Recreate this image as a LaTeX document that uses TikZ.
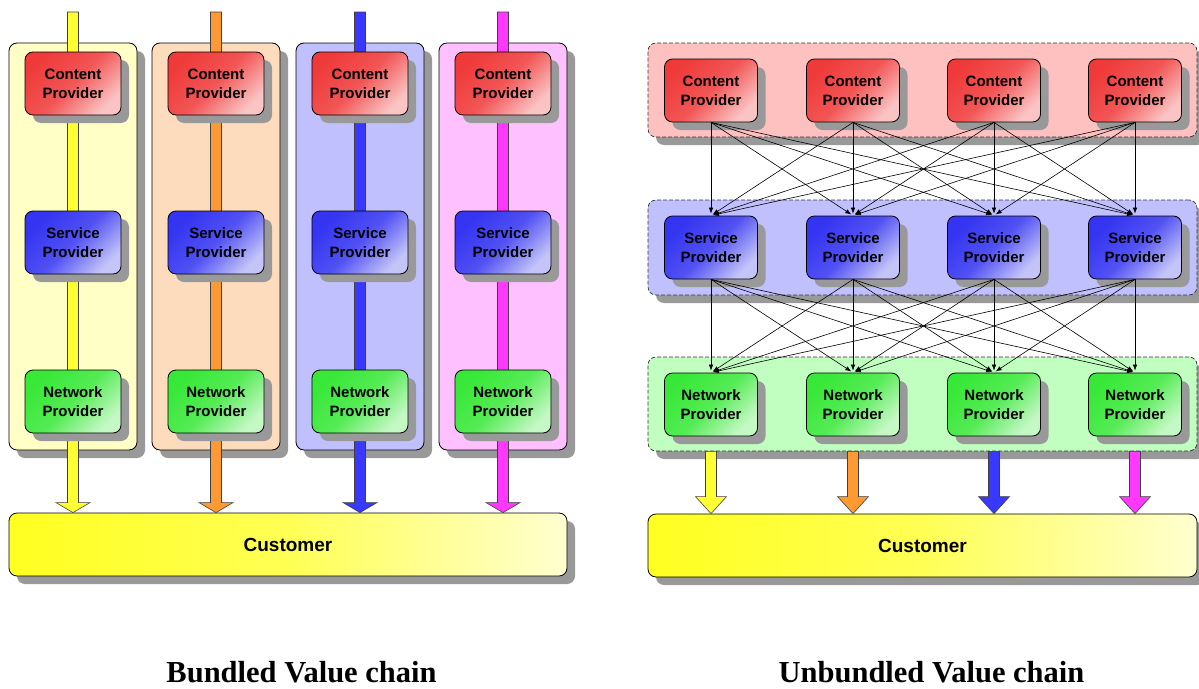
\documentclass[tikz,border=0pt]{standalone}
\usepackage{fontspec}
\setmainfont{Liberation Serif}
\setsansfont{Liberation Sans}
\usetikzlibrary{shadows,arrows.meta,calc}
\definecolor{shadowgray}{HTML}{999999}
\definecolor{bgY}{HTML}{FFFFC6}
\definecolor{bgO}{HTML}{FDDCBE}
\definecolor{bgB}{HTML}{C0C0FF}
\definecolor{bgP}{HTML}{FFC0FF}
\definecolor{barY}{HTML}{FFFF33}
\definecolor{barO}{HTML}{FF9933}
\definecolor{barB}{HTML}{3838FF}
\definecolor{barP}{HTML}{FF38FF}
\definecolor{cpA}{HTML}{F03A3A}
\definecolor{cpB}{HTML}{FAC4C4}
\definecolor{spA}{HTML}{3434F2}
\definecolor{spB}{HTML}{C4C4F8}
\definecolor{npA}{HTML}{38E838}
\definecolor{npB}{HTML}{C4F8C4}
\definecolor{grR}{HTML}{FFC0C0}
\definecolor{grB}{HTML}{C0C0FF}
\definecolor{grG}{HTML}{C0FFC0}
\definecolor{cuA}{HTML}{FFFF20}
\definecolor{cuB}{HTML}{FFFFD0}
\newcommand{\fatarrow}[6]{% top, tip, fill, headlen, shaft half, head half
  \filldraw[fill=#3, draw=black!75, line width=0.6pt]
    ($(#1)+(-#5,0)$) -- ($(#1)+(#5,0)$) -- ($(#2)+(#5,-#4)$) -- ($(#2)+(#6,-#4)$)
    -- (#2) -- ($(#2)+(-#6,-#4)$) -- ($(#2)+(-#5,-#4)$) -- cycle;}
\begin{document}
\begin{tikzpicture}[x=1pt,y=-1pt,
  shd/.style={drop shadow={shadow xshift=8pt,shadow yshift=-8pt,fill=shadowgray,opacity=1}},
  box/.style={shd, rounded corners=8pt, draw=black, line width=0.8pt,
    minimum height=63pt, inner sep=0pt, align=center,
    font=\sffamily\bfseries\fontsize{15}{19}\selectfont},
  cp/.style={box, top color=cpA, bottom color=cpB, middle color=cpA!80!cpB, shading angle=45},
  sp/.style={box, top color=spA, bottom color=spB, middle color=spA!80!spB, shading angle=45},
  np/.style={box, top color=npA, bottom color=npB, middle color=npA!80!npB, shading angle=45},
  colbox/.style={shd, rounded corners=8pt, draw=black, line width=0.8pt,
    minimum width=128pt, minimum height=407pt, inner sep=0pt},
  group/.style={shd, rounded corners=8pt, draw=black!80, dash pattern=on 4pt off 2pt,
    line width=0.7pt, minimum width=549pt, inner sep=0pt},
  cust/.style={shd, rounded corners=8pt, draw=black, line width=0.8pt,
    left color=cuA, right color=cuB, middle color=cuA!70!cuB, minimum height=63pt, inner sep=0pt,
    font=\sffamily\bfseries\fontsize{19}{22}\selectfont},
  conn/.style={-{Latex[length=6pt,width=4.5pt]}, line width=0.6pt, shorten >=2pt},
  title/.style={anchor=base, font=\bfseries\fontsize{30.5}{34}\selectfont}]
\useasboundingbox (0,0) rectangle (1199,688);

% ---------------- Left: bundled ----------------
\node[colbox, fill=bgY] (col1) at (73,246.5) {};
\node[colbox, fill=bgO] (col2) at (216,246.5) {};
\node[colbox, fill=bgB] (col3) at (360,246.5) {};
\node[colbox, fill=bgP] (col4) at (503,246.5) {};

\node[cust, minimum width=558pt] (custL) at (288,544.5) {Customer};

\foreach \i/\x in {1/73,2/216,3/360,4/503}{
  \coordinate (t\i) at (\x,12);
  \coordinate (b\i) at (custL.north -| t\i);
}
\fatarrow{t1}{b1}{barY}{10}{5.5}{17}
\fatarrow{t2}{b2}{barO}{10}{5.5}{17}
\fatarrow{t3}{b3}{barB}{10}{5.5}{17}
\fatarrow{t4}{b4}{barP}{10}{5.5}{17}

\foreach \i/\x in {1/73,2/216,3/360,4/503}{
  \node[cp, minimum width=96pt] (lc\i) at (\x,83.5) {Content\\Provider};
  \node[sp, minimum width=96pt] (ls\i) at (\x,242.5) {Service\\Provider};
  \node[np, minimum width=96pt] (ln\i) at (\x,401.5) {Network\\Provider};
}

\node[title] (tl) at (301.5,682) {Bundled Value chain};

% ---------------- Right: unbundled ----------------
\node[group, fill=grR, minimum height=94pt] (g1) at (922.5,90) {};
\node[group, fill=grB, minimum height=95pt] (g2) at (922.5,247.5) {};
\node[group, fill=grG, minimum height=94pt] (g3) at (922.5,404) {};

\node[cust, minimum width=549pt] (custR) at (922.5,545.5) {Customer};

\foreach \i/\x in {1/711,2/853,3/994,4/1135}{
  \node[cp, minimum width=93pt] (c\i) at (\x,90.5) {Content\\Provider};
  \node[sp, minimum width=93pt] (s\i) at (\x,247.5) {Service\\Provider};
  \node[np, minimum width=93pt] (n\i) at (\x,404.5) {Network\\Provider};
}

\foreach \i in {1,...,4}{
  \foreach \j in {1,...,4}{
    \draw[conn] (c\i.south) -- (s\j.north);
    \draw[conn] (s\i.south) -- (n\j.north);
  }
}

\foreach \i in {1,...,4}{
  \coordinate (rt\i) at (g3.south -| n\i);
  \coordinate (rb\i) at (custR.north -| n\i);
}
\fatarrow{rt1}{rb1}{barY}{17}{5.5}{15.5}
\fatarrow{rt2}{rb2}{barO}{17}{5.5}{15.5}
\fatarrow{rt3}{rb3}{barB}{17}{5.5}{15.5}
\fatarrow{rt4}{rb4}{barP}{17}{5.5}{15.5}

\node[title] (tr) at (931.5,682) {Unbundled Value chain};
\end{tikzpicture}
\end{document}
